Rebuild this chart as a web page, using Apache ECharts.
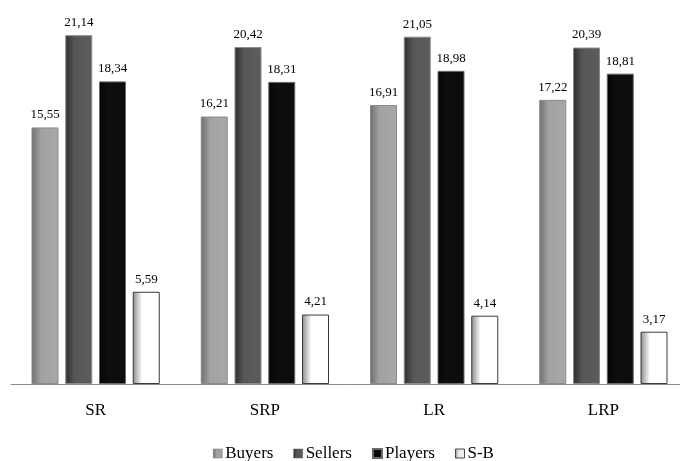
<!DOCTYPE html>
<html>
<head>
<meta charset="utf-8">
<script src="https://cdn.jsdelivr.net/npm/echarts@6/dist/echarts.min.js"></script>
<style>
  html, body { margin: 0; padding: 0; background: #fff; overflow: hidden; }
  #chart { width: 700px; height: 461px; }
</style>
</head>
<body>
<div id="chart"></div>
<script>
// Scenario categories and the four measured series
const categories = ['SR', 'SRP', 'LR', 'LRP'];
const buyers  = [15.55, 16.21, 16.91, 17.22];
const sellers = [21.14, 20.42, 21.05, 20.39];
const players = [18.34, 18.31, 18.98, 18.81];
const sMinusB = [5.59, 4.21, 4.14, 3.17];

const serif = '"Liberation Serif", "DejaVu Serif", serif';

// Horizontal shading: darker at the left edge, flat towards the right
function shade(edge, mid, right) {
  return new echarts.graphic.LinearGradient(0, 0, 1, 0, [
    { offset: 0, color: edge },
    { offset: 0.35, color: mid },
    { offset: 1, color: right }
  ]);
}

function fmt(v) { return v.toFixed(2).replace('.', ','); }

function bar(name, data, fill, border) {
  return {
    name: name,
    type: 'bar',
    data: data,
    barWidth: 27,
    barGap: '25%',
    itemStyle: { color: fill, borderColor: border, borderWidth: 1 },
    label: {
      show: true,
      position: 'top',
      distance: 6,
      fontFamily: serif,
      fontSize: 13,
      color: '#000',
      formatter: p => fmt(p.value)
    }
  };
}

const chart = echarts.init(document.getElementById('chart'), null, { renderer: 'canvas' });

chart.setOption({
  animation: false,
  backgroundColor: '#fff',
  // the plot runs slightly past the right edge of the visible page
  grid: { left: 11, top: 21, width: 677, height: 363, containLabel: false },
  legend: {
    top: 440,
    left: 208,
    itemWidth: 9,
    itemHeight: 9,
    itemGap: 20,
    icon: 'rect',
    textStyle: { fontFamily: serif, fontSize: 17, color: '#000', padding: [0, 0, 0, -2] },
    data: [
      { name: 'Buyers', itemStyle: { color: shade('#666', '#a0a0a0', '#a4a4a4'), borderColor: '#777', borderWidth: 0.5 } },
      { name: 'Sellers', itemStyle: { color: shade('#2a2a2a', '#555', '#5a5a5a'), borderColor: '#555', borderWidth: 0.5 } },
      { name: 'Players', itemStyle: { color: '#0a0a0a' } },
      { name: 'S-B', itemStyle: { color: shade('#888', '#e8e8e8', '#f4f4f4'), borderColor: '#444', borderWidth: 1 } }
    ]
  },
  xAxis: {
    type: 'category',
    data: categories,
    axisLine: { lineStyle: { color: '#8a8a8a', width: 1 } },
    axisTick: { show: false },
    axisLabel: { fontFamily: serif, fontSize: 17, color: '#000', margin: 18 }
  },
  yAxis: {
    type: 'value',
    min: 0,
    max: 22,
    show: false,
    splitLine: { show: false }
  },
  series: [
    bar('Buyers', buyers, shade('#6e6e6e', '#a2a2a2', '#a8a8a8'), '#8a8a8a'),
    bar('Sellers', sellers, shade('#2e2e2e', '#575757', '#5c5c5c'), '#8a8a8a'),
    bar('Players', players, shade('#050505', '#0e0e0e', '#0c0c0c'), '#6a6a6a'),
    bar('S-B', sMinusB, shade('#8a8a8a', '#ffffff', '#ffffff'), '#3a3a3a')
  ]
});
</script>
</body>
</html>
